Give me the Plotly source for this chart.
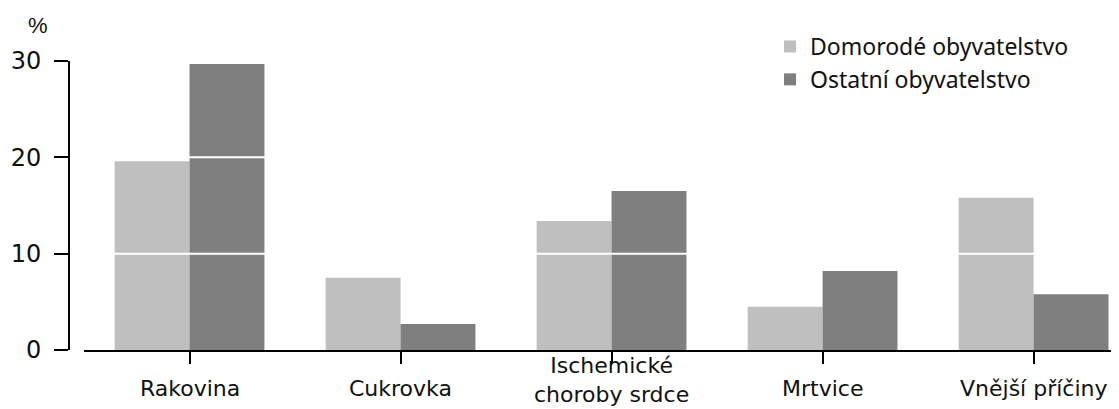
import plotly.graph_objects as go

categories = ["Rakovina", "Cukrovka", "Ischemické<br>choroby srdce", "Mrtvice", "Vnější příčiny"]
domorode = [19.6, 7.5, 13.4, 4.5, 15.8]
ostatni = [29.7, 2.7, 16.5, 8.2, 5.8]
series_names = ["Domorodé obyvatelstvo", "Ostatní obyvatelstvo"]
y_ticks = [0, 10, 20, 30]
white_lines = [10, 20]

light = "#bfbfbf"
dark = "#7f7f7f"
txt = "#111111"

fig = go.Figure()
fig.add_trace(go.Bar(x=categories, y=domorode, name=series_names[0],
                     marker=dict(color=light, line=dict(width=0)), legendgroup="a"))
fig.add_trace(go.Bar(x=categories, y=ostatni, name=series_names[1],
                     marker=dict(color=dark, line=dict(width=0)), legendgroup="b"))

# page has an 8px body margin; figure coordinates are page - 8
W, H = 1119, 409
ml, mr, mt, mb = 52, 9, 53, 67
pw = W - ml - mr
ph = H - mt - mb
x_start = (76 - ml) / pw
y_pos = (61 - ml) / pw

for v in white_lines:
    fig.add_shape(type="line", xref="paper", yref="y", x0=x_start, x1=1, y0=v, y1=v,
                  line=dict(color="white", width=2), layer="above")

for c in categories:
    two_line = "<br>" in c
    fig.add_annotation(x=c, xref="x", y=0, yref="paper", yshift=-30 if two_line else -38,
                       text=c, showarrow=False,
                       font=dict(family="DejaVu Sans", size=22, color=txt),
                       yanchor="middle", xanchor="center")

fig.add_annotation(x=(30 - ml) / pw, y=1 + (mt - 18) / ph, xref="paper", yref="paper",
                   text="%", showarrow=False, xanchor="center", yanchor="middle",
                   font=dict(family="Liberation Sans", size=22, color=txt))

fig.update_layout(
    width=W, height=H,
    margin=dict(l=ml, r=mr, t=mt, b=mb, pad=0, autoexpand=False),
    paper_bgcolor="white", plot_bgcolor="white",
    barmode="group", bargap=0.29, bargroupgap=0,
    xaxis=dict(domain=[x_start, 1], range=[-0.5, 4.4], showgrid=False, showline=True,
               linecolor="black", linewidth=2, ticks="outside", ticklen=12, tickwidth=2,
               tickcolor="black", showticklabels=False, zeroline=False, automargin=False),
    yaxis=dict(anchor="free", position=y_pos, range=[0, 30], tickvals=y_ticks,
               showgrid=False, showline=True, linecolor="black", linewidth=2,
               ticks="outside", ticklen=14, tickwidth=2, tickcolor="black",
               ticklabelstandoff=8, zeroline=False, automargin=False,
               tickfont=dict(family="DejaVu Sans", size=24, color=txt)),
    legend=dict(x=(762 - ml) / pw, y=1 + (mt - 17) / ph, xanchor="left", yanchor="top",
                bgcolor="rgba(0,0,0,0)",
                font=dict(family="Noto Sans", size=23, color=txt), traceorder="grouped",
                tracegroupgap=0),
    showlegend=True,
)

fig.write_html("out.html")
